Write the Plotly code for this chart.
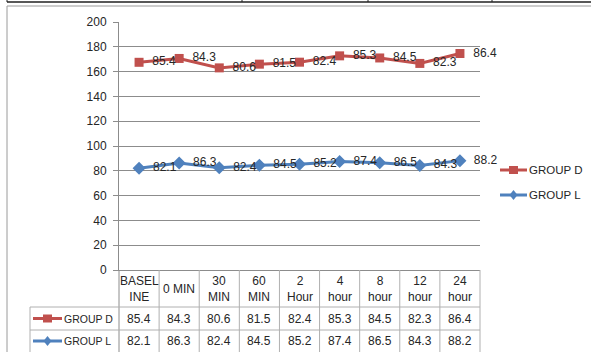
import plotly.graph_objects as go

# Time points (two-line header labels for the data table)
categories = ["BASEL<br>INE", "0 MIN", "30<br>MIN", "60<br>MIN", "2<br>Hour",
              "4<br>hour", "8<br>hour", "12<br>hour", "24<br>hour"]
group_d = [85.4, 84.3, 80.6, 81.5, 82.4, 85.3, 84.5, 82.3, 86.4]
group_l = [82.1, 86.3, 82.4, 84.5, 85.2, 87.4, 86.5, 84.3, 88.2]
y_ticks = [0, 20, 40, 60, 80, 100, 120, 140, 160, 180, 200]

RED = "#C0504D"
BLUE = "#4F81BD"
GRID = "#8c8c8c"
TABLE = "#b0b0b0"
TXT = "#262626"
FONT = "Liberation Sans, Arial, sans-serif"

W, H = 591, 352
L, R, T, B = 119, 480, 22, 270


def px(x):
    return (x - L) / (R - L)


def py(y):
    return (B - y) / (B - T)


fig = go.Figure()

# Stacked line series: GROUP L at the bottom, GROUP D stacked on top of it
fig.add_trace(go.Scatter(
    x=categories, y=group_l, name="GROUP L", stackgroup="s", fill="none",
    mode="lines+markers+text",
    line=dict(color=BLUE, width=3),
    marker=dict(symbol="diamond", size=10, color=BLUE),
    text=["  " + str(v) for v in group_l], textposition="middle right",
    textfont=dict(family=FONT, size=12, color=TXT), cliponaxis=False,
))
fig.add_trace(go.Scatter(
    x=categories, y=group_d, name="GROUP D", stackgroup="s", fill="none",
    mode="lines+markers+text",
    line=dict(color=RED, width=3),
    marker=dict(symbol="square", size=9, color=RED),
    text=["  " + str(v) for v in group_d], textposition="middle right",
    textfont=dict(family=FONT, size=12, color=TXT), cliponaxis=False,
))

shapes = []
annotations = []


def hline(x0, x1, y, color, width=1):
    shapes.append(dict(type="line", xref="paper", yref="paper",
                       x0=px(x0), x1=px(x1), y0=py(y), y1=py(y),
                       line=dict(color=color, width=width)))


def vline(x, y0, y1, color, width=1):
    shapes.append(dict(type="line", xref="paper", yref="paper",
                       x0=px(x), x1=px(x), y0=py(y0), y1=py(y1),
                       line=dict(color=color, width=width)))


def series_key(x0, x1, yy, color, sym, label, text_x, size):
    """Line-with-marker key followed by the series name."""
    hline(x0, x1, yy, color, 3)
    cx = (x0 + x1) / 2
    if sym == "square":
        shapes.append(dict(type="rect", xref="paper", yref="paper",
                           x0=px(cx - 4.5), x1=px(cx + 4.5),
                           y0=py(yy + 4), y1=py(yy - 4),
                           fillcolor=color, line=dict(width=0)))
    else:
        path = "M {} {} L {} {} L {} {} L {} {} Z".format(
            px(cx), py(yy - 5), px(cx + 4), py(yy), px(cx), py(yy + 5),
            px(cx - 4), py(yy))
        shapes.append(dict(type="path", xref="paper", yref="paper", path=path,
                           fillcolor=color, line=dict(width=0)))
    annotations.append(dict(x=px(text_x), xref="paper", xanchor="left",
                            y=py(yy), yref="paper", yanchor="middle",
                            text=label, showarrow=False,
                            font=dict(family=FONT, size=size, color=TXT)))


# Border of the surrounding document table and the chart frame
hline(7, 591, 2, "#202020", 1.5)
for xd in [7, 242, 368, 492]:
    vline(xd, 0, 2, "#202020", 1)
hline(7, 591, 6, "#9a9a9a", 1)
vline(7, 6, 352, "#9a9a9a", 1)

# Data table grid below the x axis
n = len(categories)
col_w = (R - L) / n
for k in range(n + 1):
    vline(L + k * col_w, B, 352, TABLE if k else GRID, 1)
vline(30, 307, 352, TABLE, 1)
hline(30, R, 307, TABLE, 1)
hline(30, R, 330, TABLE, 1)

# Row keys of the data table
series_key(33, 62, 318.5, RED, "square", "GROUP D", 62, 10.5)
series_key(33, 62, 341, BLUE, "diamond", "GROUP L", 62, 10.5)

# Legend at the right of the plot
series_key(500, 527, 170, RED, "square", "GROUP D", 527, 11.5)
series_key(500, 527, 195, BLUE, "diamond", "GROUP L", 527, 11.5)

cell_font = dict(family=FONT, size=12, color=TXT)
for i, c in enumerate(categories):
    annotations.append(dict(x=c, xref="x", y=py(289), yref="paper",
                            yanchor="middle", text=c, showarrow=False,
                            font=cell_font))
    annotations.append(dict(x=c, xref="x", y=py(318.5), yref="paper",
                            yanchor="middle", text=str(group_d[i]),
                            showarrow=False, font=cell_font))
    annotations.append(dict(x=c, xref="x", y=py(341), yref="paper",
                            yanchor="middle", text=str(group_l[i]),
                            showarrow=False, font=cell_font))

fig.update_layout(
    width=W, height=H,
    margin=dict(l=L, r=W - R, t=T, b=H - B, pad=0),
    paper_bgcolor="white", plot_bgcolor="white",
    font=dict(family=FONT, size=12, color=TXT),
    shapes=shapes, annotations=annotations,
    showlegend=False,
    xaxis=dict(type="category", categoryorder="array", categoryarray=categories,
               range=[-0.5, n - 0.5], showticklabels=False, showgrid=False,
               showline=True, linecolor=GRID, linewidth=1, ticks="",
               zeroline=False, fixedrange=True),
    yaxis=dict(range=[0, 200], tickvals=y_ticks, showgrid=True, gridcolor=GRID,
               gridwidth=1, showline=True, linecolor=GRID, linewidth=1,
               ticks="outside", ticklen=5, tickcolor=GRID, zeroline=False,
               ticklabelstandoff=4,
               tickfont=dict(family=FONT, size=12, color=TXT), fixedrange=True),
)

fig.write_html("out.html")
